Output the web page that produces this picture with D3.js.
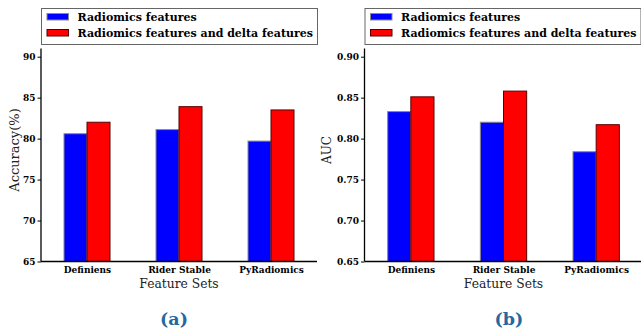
<!DOCTYPE html>
<html>
<head>
<meta charset="utf-8">
<script src="https://cdn.jsdelivr.net/npm/d3@7"></script>
<style>
  body { margin: 0; background: #fff; }
  svg { display: block; }
</style>
</head>
<body>
<svg id="chart" width="641" height="331"></svg>
<script>
// data
const featureSets = ["Definiens", "Rider Stable", "PyRadiomics"];
const seriesNames = ["Radiomics features", "Radiomics features and delta features"];
const accRadiomics = [80.6, 81.1, 79.7];
const accDelta = [82.0, 83.9, 83.5];
const aucRadiomics = [0.833, 0.820, 0.784];
const aucDelta = [0.851, 0.858, 0.817];
const accTicks = [65, 70, 75, 80, 85, 90];
const aucTicks = [0.65, 0.70, 0.75, 0.80, 0.85, 0.90];

const colors = ["#0000ff", "#ff0000"];
const edges = ["#8a8a8a", "#5a0000"];
const serif = "'DejaVu Serif', serif";

const svg = d3.select("#chart");

function drawPanel(opts) {
    const g = svg.append("g").attr("transform", `translate(${opts.left},0)`);
    const top = 48.5, bottom = 261.5;

    const x = d3.scaleLinear().domain([-0.5, 2.5]).range([0, opts.width]);
    const y = d3.scaleLinear().domain(opts.domain).range([bottom, top]);
    const bw = x(0.25) - x(0);

    // bars, blue left of the tick, red right of it
    [opts.a, opts.b].forEach((vals, s) => {
        g.append("g").selectAll("rect")
            .data(vals)
            .enter().append("rect")
            .attr("x", (d, i) => s === 0 ? x(i) - bw : x(i))
            .attr("y", d => y(d))
            .attr("width", bw)
            .attr("height", d => bottom - y(d))
            .attr("fill", colors[s])
            .attr("stroke", edges[s])
            .attr("stroke-width", 1);
    });

    // y axis
    const ya = g.append("g")
        .call(d3.axisLeft(y).tickValues(opts.ticks).tickFormat(opts.fmt).tickSize(3.5).tickPadding(2));
    ya.select(".domain").attr("d", `M0,${top}V${bottom}`).attr("stroke", "#000").attr("stroke-width", 1.3);
    ya.selectAll("text").style("font-family", serif).style("font-weight", "bold").style("font-size", "9px").attr("fill", "#000");
    ya.selectAll("line").attr("stroke", "#000");

    // x axis
    const xa = g.append("g").attr("transform", `translate(0,${bottom})`)
        .call(d3.axisBottom(x).tickValues([0, 1, 2]).tickFormat(i => featureSets[i]).tickSize(0).tickPadding(5));
    xa.select(".domain").attr("d", `M0,0H${opts.width}`).attr("stroke", "#000").attr("stroke-width", 1.3);
    xa.selectAll("text").style("font-family", serif).style("font-weight", "bold").style("font-size", "9px").attr("fill", "#000");

    g.append("text")
        .attr("x", x(1)).attr("y", 287.5)
        .attr("text-anchor", "middle")
        .style("font-family", serif).style("font-size", "12.3px").attr("fill", "#222")
        .text("Feature Sets");

    g.append("text")
        .attr("transform", `translate(${opts.ylabelX},150) rotate(-90)`)
        .attr("text-anchor", "middle")
        .style("font-family", serif).style("font-size", opts.ylabelSize).attr("fill", "#222")
        .text(opts.ylabel);

    // legend
    const lg = g.append("g").attr("transform", "translate(0.5,8.5)");
    lg.append("rect")
        .attr("width", 276).attr("height", 36)
        .attr("fill", "#fff").attr("stroke", "#666").attr("stroke-width", 1);
    seriesNames.forEach((name, s) => {
        lg.append("rect")
            .attr("x", 5.5).attr("y", 5 + s * 16)
            .attr("width", 21.5).attr("height", 6.5)
            .attr("fill", colors[s]).attr("stroke", edges[s]);
        lg.append("text")
            .attr("x", 36).attr("y", 12.5 + s * 16)
            .style("font-family", serif).style("font-weight", "bold").style("font-size", "11px")
            .attr("fill", "#000")
            .text(name);
    });

    g.append("text")
        .attr("x", opts.captionX).attr("y", 325)
        .attr("text-anchor", "middle")
        .style("font-family", serif).style("font-weight", "bold").style("font-size", "17.5px")
        .attr("fill", "#2368a0")
        .text(opts.caption);
}

drawPanel({
    left: 41, width: 276, domain: [65, 91], ticks: accTicks,
    fmt: d3.format("d"), a: accRadiomics, b: accDelta,
    ylabel: "Accuracy(%)", ylabelX: -22.5, ylabelSize: "13px", caption: "(a)", captionX: 133
});

drawPanel({
    left: 364.5, width: 278, domain: [0.65, 0.91], ticks: aucTicks,
    fmt: d3.format(".2f"), a: aucRadiomics, b: aucDelta,
    ylabel: "AUC", ylabelX: -34, ylabelSize: "12px", caption: "(b)", captionX: 144.5
});
</script>
</body>
</html>
